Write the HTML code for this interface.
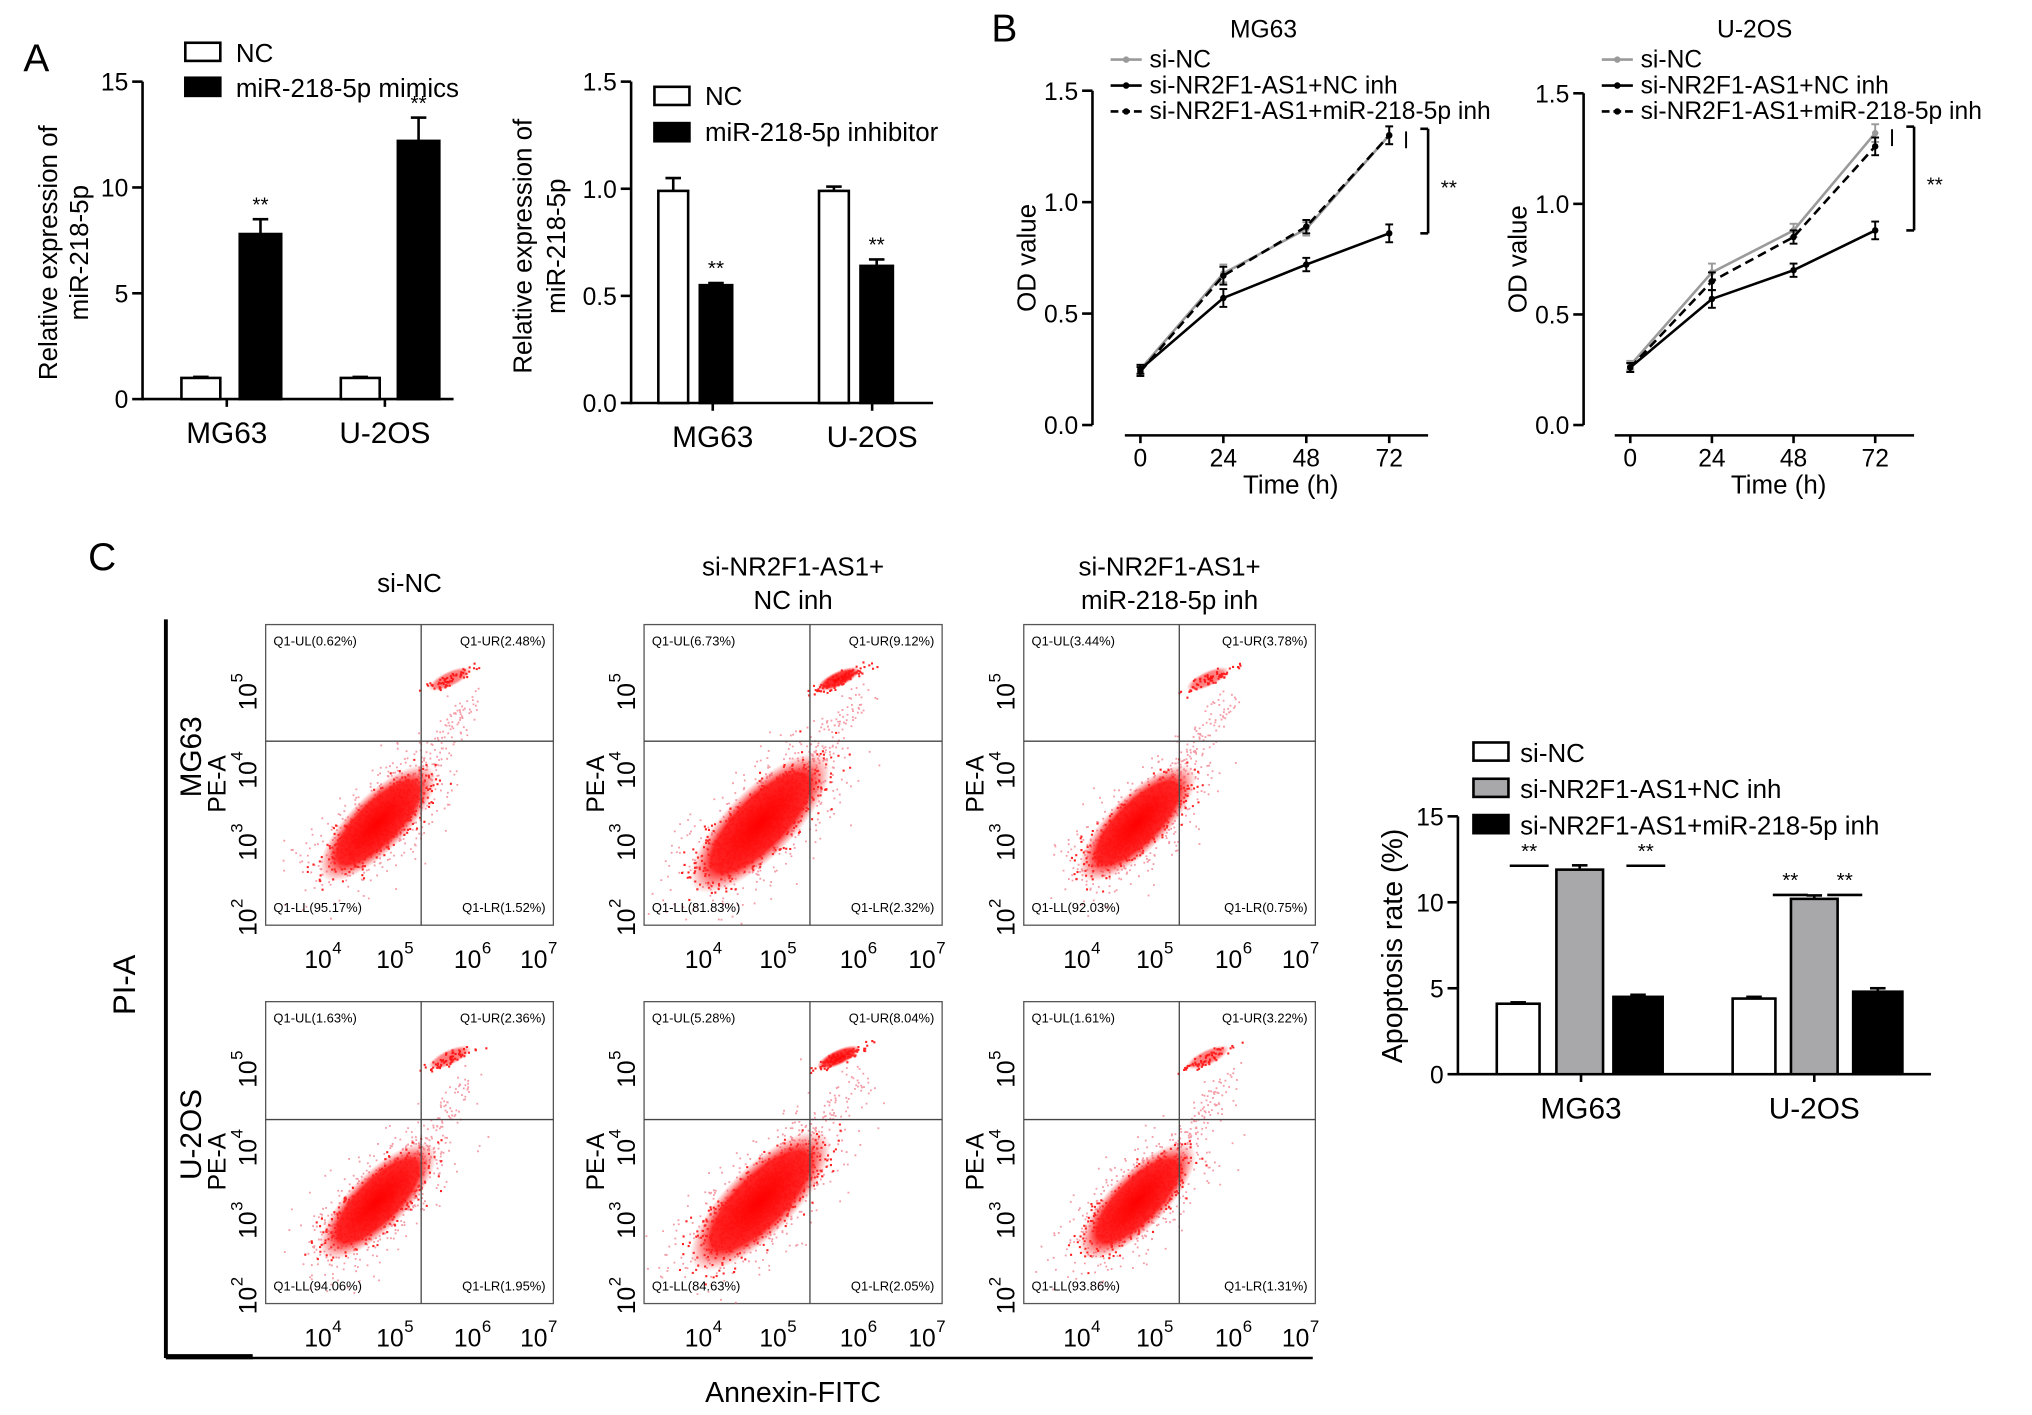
<!DOCTYPE html>
<html><head><meta charset="utf-8"><style>
html,body{margin:0;padding:0;background:#fff}
svg{display:block;font-family:"Liberation Sans",Arial,sans-serif}
</style></head><body>
<svg id="fig" width="2032" height="1415" viewBox="0 0 1568 1092" preserveAspectRatio="none" xmlns="http://www.w3.org/2000/svg">
<defs>
<radialGradient id="rg"><stop offset="0" stop-color="#ff0000" stop-opacity="1"/><stop offset="0.7" stop-color="#ff1a1a" stop-opacity="0.95"/><stop offset="1" stop-color="#ff4040" stop-opacity="0"/></radialGradient>
</defs>
<g id="root"></g>
</svg>
<script>
// ---- Panel A data ----
const aCats = ["MG63","U-2OS"];
const aMimNC = [1.0, 1.0];
const aMimVal = [7.8, 12.2];
const aMimErr = [0.7, 1.1];
const aInhNC = [0.99, 0.99];
const aInhNCErr = [0.06, 0.02];
const aInhVal = [0.55, 0.64];
const aInhErr = [0.01, 0.03];
// ---- Panel B data ----
const bTimes = [0,24,48,72];
const bMG_siNC = [0.25,0.68,0.88,1.30];
const bMG_NCinh = [0.25,0.57,0.72,0.86];
const bMG_miR = [0.24,0.67,0.89,1.30];
const bU_siNC = [0.27,0.69,0.88,1.32];
const bU_NCinh = [0.26,0.57,0.70,0.88];
const bU_miR = [0.26,0.65,0.85,1.26];
const bErr = [0.02,0.04,0.03,0.04];
// ---- Panel C bar data ----
const cSiNC = [4.1, 4.4];
const cNCinh = [11.9, 10.2];
const cMiR = [4.5, 4.8];
const cErr1 = [0.08,0.1];
const cErr2 = [0.25,0.2];
const cErr3 = [0.12,0.2];
// ---- flow quadrant labels ----
const flowUL = ["0.62%","6.73%","3.44%","1.63%","5.28%","1.61%"];
const flowUR = ["2.48%","9.12%","3.78%","2.36%","8.04%","3.22%"];
const flowLL = ["95.17%","81.83%","92.03%","94.06%","84.63%","93.86%"];
const flowLR = ["1.52%","2.32%","0.75%","1.95%","2.05%","1.31%"];

const NS="http://www.w3.org/2000/svg";
const root=document.getElementById('root');
function el(tag,attrs,parent,text){const e=document.createElementNS(NS,tag);for(const k in attrs)e.setAttribute(k,attrs[k]);if(text!==undefined)e.textContent=text;(parent||root).appendChild(e);return e;}
function line(x1,y1,x2,y2,w,c,p,dash){const a={x1,y1,x2,y2,stroke:c||'#000','stroke-width':w||2};if(dash)a['stroke-dasharray']=dash;return el('line',a,p);}
function txt(x,y,s,size,anchor,p,rot){const a={x,y,'font-size':size,'text-anchor':anchor||'middle',fill:'#000'};if(rot)a.transform=`rotate(${rot} ${x} ${y})`;return el('text',a,p,s);}

[["A",18,55],["B",765,32],["C",68,440]].forEach(([s,x,y])=>{const t=txt(x,y,s,30,'start');});

function barChart(o){
  const g=el('g',{});
  
  
  const ys=v=>o.y0-(v-o.min)/(o.max-o.min)*(o.y0-o.y1);
  line(o.ax,o.y1,o.ax,o.y0+1,2,'#000',g);
  line(o.ax,o.y0,o.axEnd,o.y0,2,'#000',g);
  o.ticks.forEach((t,i)=>{line(o.ax-8,ys(t),o.ax,ys(t),2,'#000',g);txt(o.ax-11,ys(t)+7,o.tickLabels[i],19,'end',g);});
  o.groups.forEach(gr=>{
    gr.bars.forEach(b=>{
      const r=el('rect',{x:b.x,y:ys(b.v),width:b.w,height:o.y0-ys(b.v),fill:b.fill,stroke:'#000','stroke-width':2},g);
      
      
      if(b.e){const cx=b.x+b.w/2,yt=ys(b.v+b.e);line(cx,ys(b.v),cx,yt,2,'#000',g);line(cx-6,yt,cx+6,yt,2,'#000',g);}
      if(b.star)txt(b.x+b.w/2,ys(b.v+(b.e||0))-6,'**',16,'middle',g);
    });
    txt(gr.lx,o.y0+34,gr.label,23,'middle',g);
    line(gr.lx,o.y0,gr.lx,o.y0+6,2,'#000',g);
  });
  return {g,ys};
}

(function(){
  const r=barChart({name:'chart-a-mimics',ax:110,axEnd:350,y0:308,y1:63,min:0,max:15,ticks:[0,5,10,15],tickLabels:["0","5","10","15"],
   groups:[0,1].map(i=>({label:aCats[i],lx:[175,297][i],bars:[
     {n:'nc-'+i,x:[140,263][i],w:30,v:aMimNC[i],e:0.05,fill:'#fff'},
     {n:'mimics-'+i,x:[185,307][i],w:32,v:aMimVal[i],e:aMimErr[i],fill:'#000',star:true}]}))});
  const g=r.g;
  txt(44,195,'Relative expression of',20,'middle',g,-90);
  txt(68,195,'miR-218-5p',20,'middle',g,-90);
  el('rect',{x:143,y:33,width:27,height:14,fill:'#fff',stroke:'#000','stroke-width':2},g);txt(182,48,'NC',20,'start',g);
  el('rect',{x:143,y:60,width:27,height:14,fill:'#000',stroke:'#000','stroke-width':2},g);txt(182,75,'miR-218-5p mimics',20,'start',g);
})();
(function(){
  const r=barChart({name:'chart-a-inhibitor',ax:487,axEnd:720,y0:311,y1:63,min:0,max:1.5,ticks:[0,0.5,1,1.5],tickLabels:["0.0","0.5","1.0","1.5"],
   groups:[0,1].map(i=>({label:aCats[i],lx:[550,673][i],bars:[
     {n:'nc-inh-'+i,x:[508,632][i],w:23,v:aInhNC[i],e:aInhNCErr[i],fill:'#fff'},
     {n:'inhibitor-'+i,x:[540,664][i],w:25,v:aInhVal[i],e:aInhErr[i],fill:'#000',star:true}]}))});
  const g=r.g;
  txt(410,190,'Relative expression of',20,'middle',g,-90);
  txt(436,190,'miR-218-5p',20,'middle',g,-90);
  el('rect',{x:505,y:67,width:27,height:14,fill:'#fff',stroke:'#000','stroke-width':2},g);txt(544,81,'NC',20,'start',g);
  el('rect',{x:505,y:95,width:27,height:14,fill:'#000',stroke:'#000','stroke-width':2},g);txt(544,109,'miR-218-5p inhibitor',20,'start',g);
})();

function lineChart(o){
  const g=el('g',{});
  
  
  const ys=v=>o.y0-v/1.5*(o.y0-o.y1);
  const xs=t=>o.x0+t/72*(o.x72-o.x0);
  line(o.ax,o.y1,o.ax,o.y0,2,'#000',g);
  [0,0.5,1,1.5].forEach((t,i)=>{line(o.ax-8,ys(t),o.ax,ys(t),2,'#000',g);txt(o.ax-11,ys(t)+7,["0.0","0.5","1.0","1.5"][i],19,'end',g);});
  const xb=o.y0+8;
  line(o.x0-12,xb,o.x72+30,xb,2,'#000',g);
  bTimes.forEach(t=>{line(xs(t),xb,xs(t),xb+6,2,'#000',g);txt(xs(t),xb+24,String(t),19,'middle',g);});
  txt((o.x0+o.x72)/2+20,xb+45,'Time (h)',20,'middle',g);
  txt(o.ax-44,(o.y0+o.y1)/2,'OD value',20,'middle',g,-90);
  txt(o.tx,29,o.title,19,'middle',g);
  const series=[{d:o.s1,c:'#9a9a9a',dash:null,n:'si-nc'},{d:o.s2,c:'#000',dash:null,n:'nc-inh'},{d:o.s3,c:'#000',dash:'7 4',n:'mir-inh'}];
  series.forEach(s=>{
    const p=el('polyline',{points:bTimes.map((t,i)=>xs(t)+','+ys(s.d[i])).join(' '),fill:'none',stroke:s.c,'stroke-width':2},g);
    if(s.dash)p.setAttribute('stroke-dasharray',s.dash);
    
    
    bTimes.forEach((t,i)=>{const cx=xs(t),cy=ys(s.d[i]);const e=ys(0)-ys(bErr[i]);line(cx,cy-e,cx,cy+e,1.5,s.c,g);line(cx-3,cy-e,cx+3,cy-e,1.5,s.c,g);line(cx-3,cy+e,cx+3,cy+e,1.5,s.c,g);
      const m=el('circle',{cx,cy,r:2.5,fill:s.c},g);});
  });
  const bx=o.x72+24, top=ys(Math.max(o.s1[3],o.s3[3])), bot=ys(o.s2[3]);
  line(bx,top-5,bx+6,top-5,2,'#000',g);line(bx+6,top-5,bx+6,bot,2,'#000',g);line(bx,bot,bx+6,bot,2,'#000',g);
  line(bx-11,top-3,bx-11,top+10,1.5,'#000',g);
  txt(bx+22,bot-30,'**',16,'middle',g);
  const lx=o.ax+14;
  [['si-NC','#9a9a9a',null],['si-NR2F1-AS1+NC inh','#000',null],['si-NR2F1-AS1+miR-218-5p inh','#000','6 3']].forEach((l,i)=>{
    const y=52+i*20;line(lx,y-6,lx+24,y-6,2,l[1],g,l[2]);el('circle',{cx:lx+12,cy:y-6,r:2.5,fill:l[1]},g);txt(lx+30,y,l[0],19,'start',g);});
}
lineChart({name:'chart-b-mg63',title:'MG63',tx:975,ax:843,x0:880,x72:1072,y0:328,y1:70,s1:bMG_siNC,s2:bMG_NCinh,s3:bMG_miR});
lineChart({name:'chart-b-u2os',title:'U-2OS',tx:1354,ax:1222,x0:1258,x72:1447,y0:328,y1:72,s1:bU_siNC,s2:bU_NCinh,s3:bU_miR});

(function(){
  const r=barChart({name:'chart-c-apoptosis',ax:1125,axEnd:1490,y0:829,y1:630,min:0,max:15,ticks:[0,5,10,15],tickLabels:["0","5","10","15"],
   groups:[0,1].map(i=>({label:aCats[i],lx:[1220,1400][i],bars:[
     {n:'si-nc-'+i,x:[1155,1337][i],w:33,v:cSiNC[i],e:cErr1[i],fill:'#fff'},
     {n:'nc-inh-'+i,x:[1201,1382][i],w:36,v:cNCinh[i],e:cErr2[i],fill:'#a8a8ab'},
     {n:'mir-inh-'+i,x:[1245,1430][i],w:38,v:cMiR[i],e:cErr3[i],fill:'#000'}]}))});
  const g=r.g, ys=r.ys;
  txt(1082,730,'Apoptosis rate (%)',22,'middle',g,-90);
  [['si-NC','#fff'],['si-NR2F1-AS1+NC inh','#a8a8ab'],['si-NR2F1-AS1+miR-218-5p inh','#000']].forEach((l,i)=>{
    const y=573+i*28;el('rect',{x:1137,y:y,width:27,height:14,fill:l[1],stroke:'#000','stroke-width':2},g);txt(1173,y+15,l[0],20,'start',g);});
  [[1165,1195,0],[1255,1285,0],[1368,1395,1],[1410,1437,1]].forEach(([a,b,i])=>{const y=ys(cNCinh[i])-3;line(a,y,b,y,2,'#000',g);txt((a+b)/2,y-6,'**',16,'middle',g);});
})();

// seeded generator for decorative cell-dot texture only (not chart data)
let seed=12345;function rnd(){seed=(seed*1103515245+12345)%2147483648;return seed/2147483648;}
function gauss(){return (rnd()+rnd()+rnd()+rnd()-2)/1.15;}

(function(){
  const cols=[[205,427,325],[497,727,625],[790,1015,910]];
  const rows=[[482,714,572],[773,1006,864]];
  const titles=[['si-NC'],['si-NR2F1-AS1+','NC inh'],['si-NR2F1-AS1+','miR-218-5p inh']];
  titles.forEach((t,ci)=>{const cx=(cols[ci][0]+cols[ci][1])/2;t.forEach((s,k)=>txt(cx,457+k*26-(t.length-1)*13,s,20,'middle'));});
  let k=0;
  rows.forEach((r,ri)=>cols.forEach((c,ci)=>{
    const g=el('g',{});
    
    
    const [x0,x1,qx]=c,[y0,y1,qy]=r;
    const W=x1-x0,H=y1-y0;
    el('rect',{x:x0,y:y0,width:W,height:H,fill:'#fff',stroke:'#555','stroke-width':1},g);
    const cl=el('g',{},g);
    el('clipPath',{id:'cp'+k},g).appendChild(el('rect',{x:x0,y:y0,width:W,height:H},g));
    cl.setAttribute('clip-path',`url(#cp${k})`);
    const sp=ci===1?1.2:1.0;
    const cx=x0+W*0.39, cy=y0+H*0.66;
    let dots='',pale='';
    const n=ci===1?900:600;
    for(let i=0;i<n;i++){const a=gauss()*50*sp,b=gauss()*18*sp;const px=cx+a*0.74+b*0.67,py=cy-a*0.67+b*0.74;dots+=`M${px.toFixed(1)} ${py.toFixed(1)}h1.6v1.6h-1.6z`;}
    for(let i=0;i<500;i++){const a=gauss()*70*sp,b=gauss()*32*sp;const px=cx+a*0.72+b*0.69,py=cy-a*0.69+b*0.72;pale+=`M${px.toFixed(1)} ${py.toFixed(1)}h1.4v1.4h-1.4z`;}
    for(let i=0;i<120;i++){const t=rnd();const px=cx+20+t*(qx-cx+20)+gauss()*12,py=cy-25-t*(cy-qy+10)+gauss()*12;pale+=`M${px.toFixed(1)} ${py.toFixed(1)}h1.4v1.4h-1.4z`;}
    for(let i=0;i<(ci===1?110:60);i++){const a=gauss()*24,b=gauss()*5;const px=qx+22+a*0.9,py=qy-48-a*0.4+b;dots+=`M${px.toFixed(1)} ${py.toFixed(1)}h1.6v1.6h-1.6z`;}
    el('path',{d:pale,fill:'#f07080',opacity:0.7},cl);
    el('path',{d:dots,fill:'#ff2020'},cl);
    el('ellipse',{cx,cy,rx:60*sp,ry:22*sp,fill:'url(#rg)',transform:`rotate(-45 ${cx} ${cy})`},cl);
    el('ellipse',{cx:qx+22,cy:qy-48,rx:18,ry:6,fill:'url(#rg)',opacity:ci===1?0.9:0.55,transform:`rotate(-25 ${qx+22} ${qy-48})`},cl);
    line(qx,y0,qx,y1,1,'#444',g);line(x0,qy,x1,qy,1,'#444',g);
    txt(x0+6,y0+16,'Q1-UL('+flowUL[k]+')',10,'start',g);
    txt(x1-6,y0+16,'Q1-UR('+flowUR[k]+')',10,'end',g);
    txt(x0+6,y1-10,'Q1-LL('+flowLL[k]+')',10,'start',g);
    txt(x1-6,y1-10,'Q1-LR('+flowLR[k]+')',10,'end',g);
    const xt=[0.2,0.45,0.72,0.95];
    ['4','5','6','7'].forEach((e,i)=>{const x=x0+W*xt[i];txt(x-4,y1+33,'10',19,'middle',g);el('text',{x:x+7,y:y1+22,'font-size':13},g,e);});
    const yt=[0.99,0.74,0.5,0.24];
    ['2','3','4','5'].forEach((e,i)=>{const y=y0+H*yt[i];txt(x0-7,y,'10',19,'middle',g,-90);el('text',{x:x0-18,y:y-11,'font-size':13,transform:`rotate(-90 ${x0-18} ${y-11})`},g,e);});
    txt(x0-31,y0+H*0.53,'PE-A',19,'middle',g,-90);
    if(ci===0)txt(x0-50,y0+H*0.44,['MG63','U-2OS'][ri],23,'middle',g,-90);
    k++;
  }));
  line(128,478,128,1048,3);
  line(128,1048,1013,1048,2);
  line(128,1047,195,1047,4);
  txt(612,1082,'Annexin-FITC',22,'middle');
  txt(104,760,'PI-A',24,'middle',null,-90);
})();
</script>
</body></html>
